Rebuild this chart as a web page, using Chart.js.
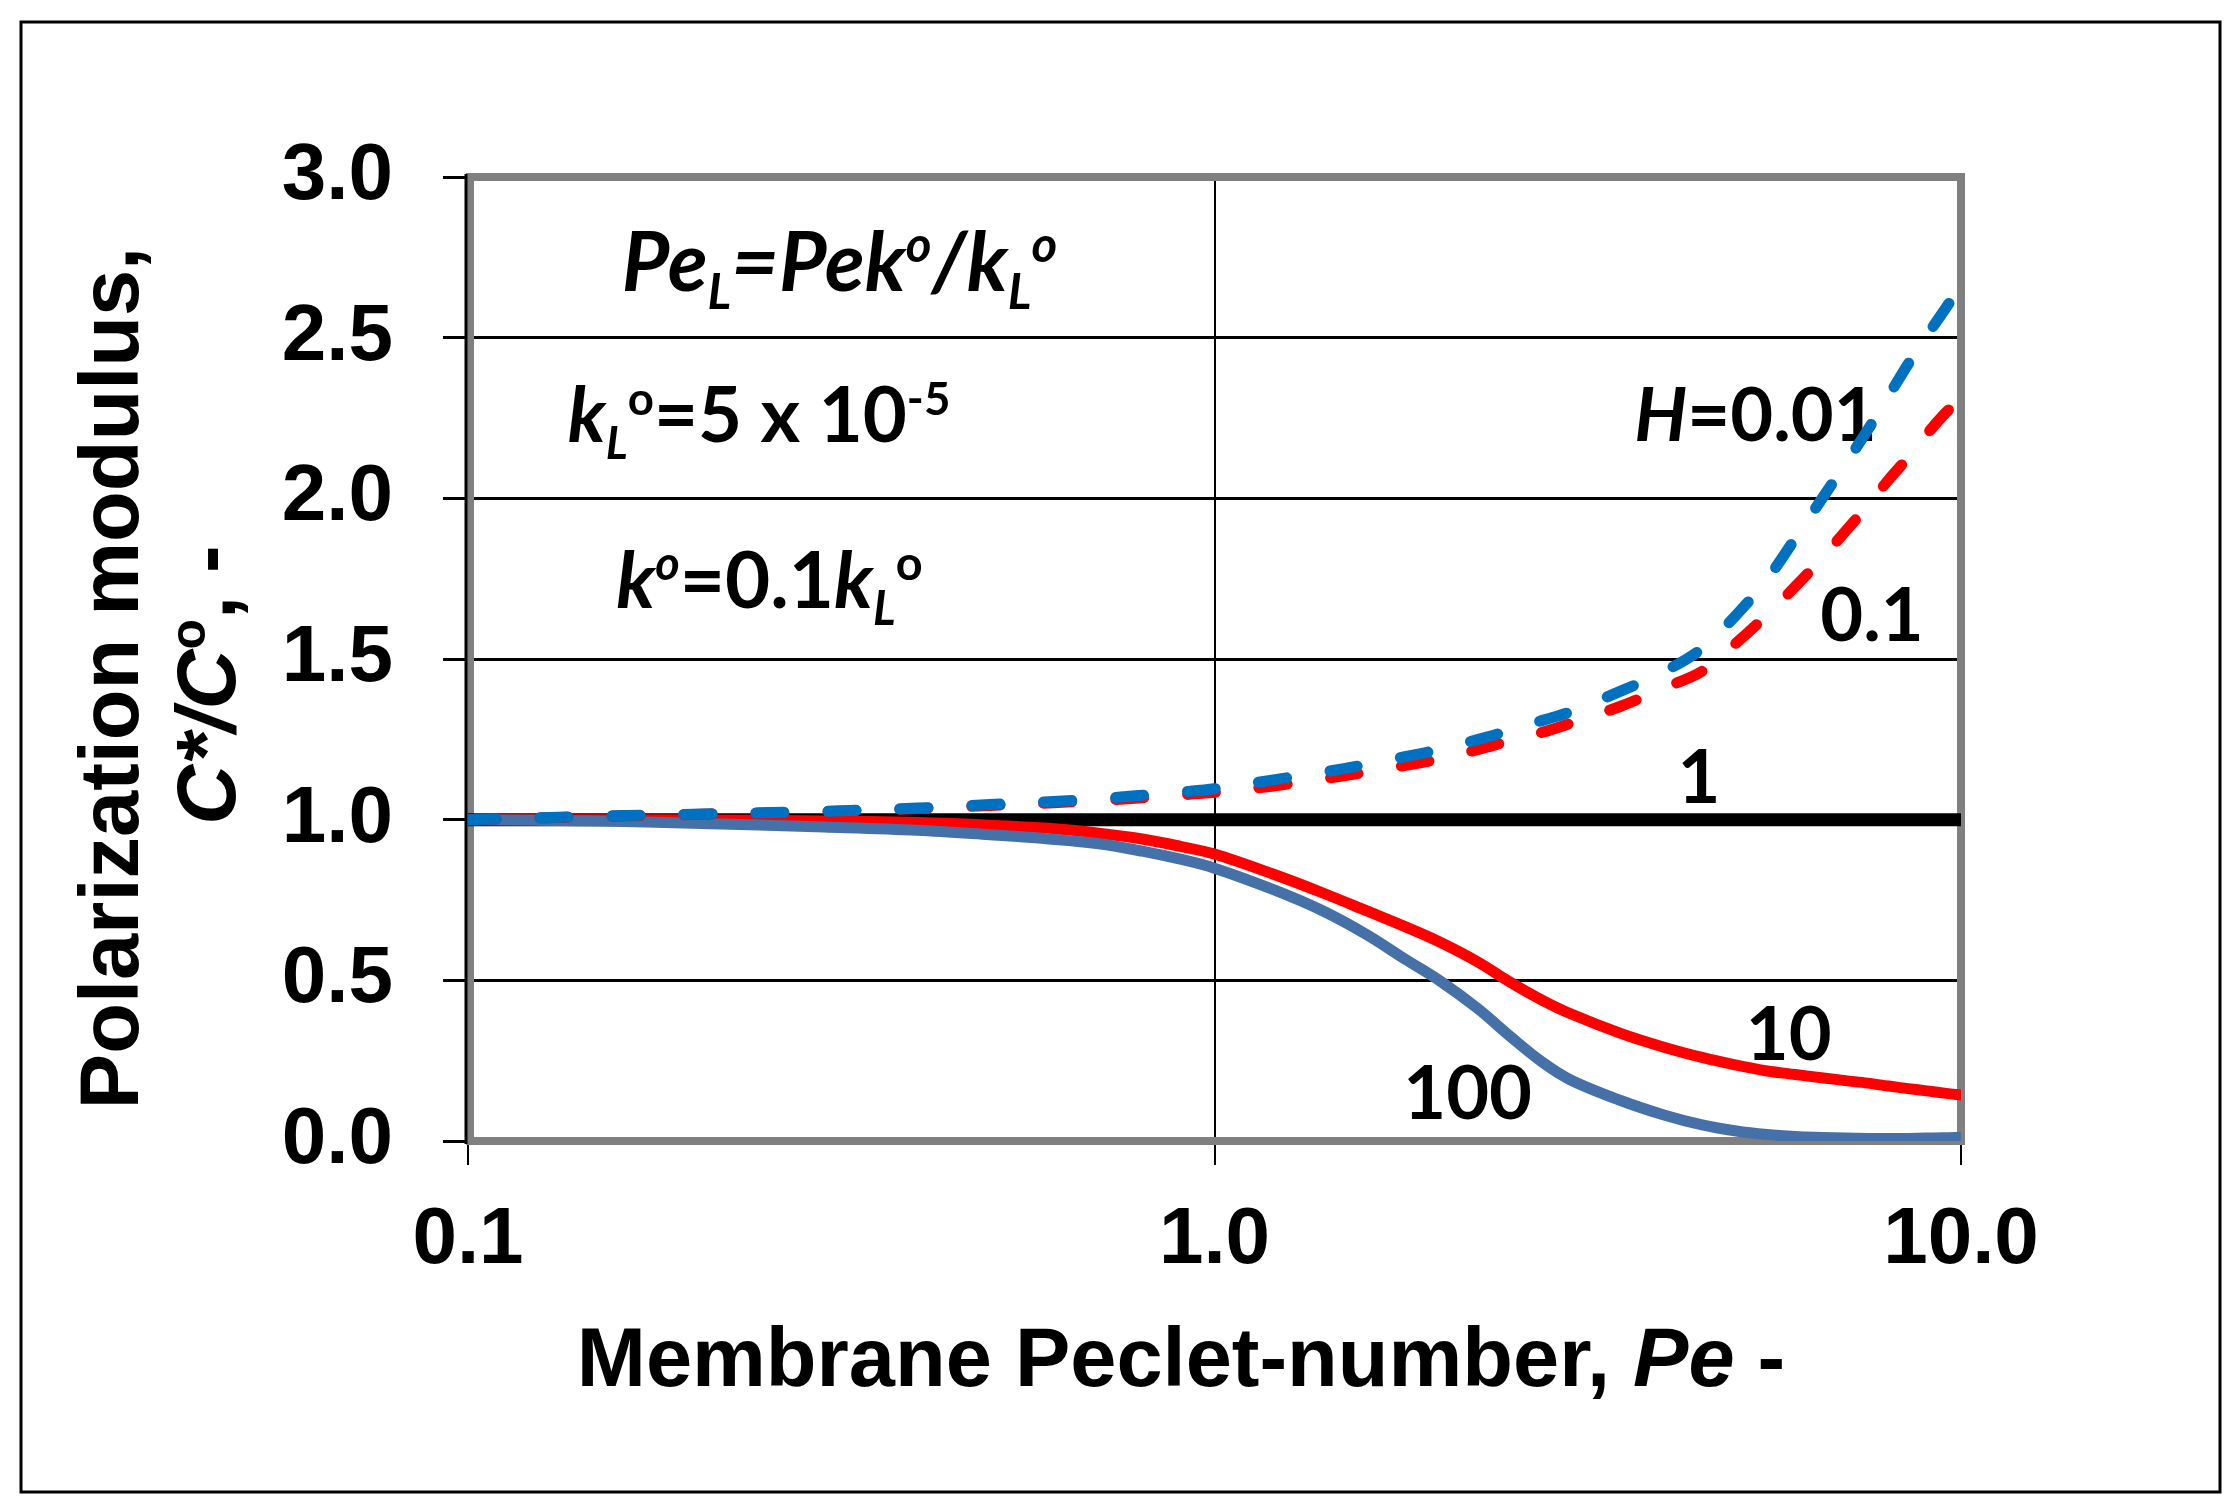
<!DOCTYPE html>
<html>
<head>
<meta charset="utf-8">
<script src="https://cdn.jsdelivr.net/npm/chart.js@4.4.1/dist/chart.umd.min.js"></script>
<style>
  html, body { margin: 0; padding: 0; background: #fff; }
  #wrap { width: 2239px; height: 1511px; position: relative; }
</style>
</head>
<body>
<div id="wrap"><canvas id="chart"></canvas></div>
<script>
// Membrane Peclet-number (x values shared by every curve)
const pe = [0.1, 0.15, 0.2, 0.3, 0.4, 0.5, 0.6, 0.7, 0.8, 0.9, 1.0, 1.2, 1.4, 1.6, 1.8, 2.0,
            2.25, 2.5, 2.75, 3.0, 3.5, 4.0, 4.5, 5.0, 5.5, 6.0, 6.5, 7.0, 7.5, 8.0, 8.5, 9.0, 9.5, 10];

// Polarization modulus C*/C° for each H
const h001 = [1.000, 1.011, 1.017, 1.026, 1.036, 1.047, 1.056, 1.065, 1.076, 1.086, 1.096, 1.124, 1.148, 1.172, 1.196, 1.218,
              1.249, 1.279, 1.309, 1.336, 1.400, 1.461, 1.533, 1.637, 1.749, 1.876, 1.996, 2.107, 2.213, 2.319, 2.419, 2.506, 2.586, 2.660];
const h01  = [1.000, 1.010, 1.016, 1.025, 1.034, 1.044, 1.052, 1.060, 1.068, 1.077, 1.085, 1.105, 1.127, 1.148, 1.169, 1.189,
              1.218, 1.247, 1.272, 1.300, 1.353, 1.410, 1.462, 1.550, 1.638, 1.726, 1.812, 1.897, 1.978, 2.058, 2.128, 2.200, 2.262, 2.312];
const h1   = [1, 1, 1, 1, 1, 1, 1, 1, 1, 1, 1, 1, 1, 1, 1, 1,
              1, 1, 1, 1, 1, 1, 1, 1, 1, 1, 1, 1, 1, 1, 1, 1, 1, 1];
const h10  = [1.000, 1.000, 0.999, 0.996, 0.991, 0.983, 0.973, 0.958, 0.940, 0.917, 0.893, 0.830, 0.771, 0.716, 0.667, 0.620,
              0.558, 0.492, 0.438, 0.396, 0.335, 0.292, 0.260, 0.236, 0.218, 0.207, 0.197, 0.188, 0.180, 0.171, 0.163, 0.156, 0.149, 0.143];
const h100 = [1.000, 0.996, 0.989, 0.977, 0.967, 0.953, 0.940, 0.925, 0.902, 0.877, 0.849, 0.782, 0.715, 0.642, 0.566, 0.500,
              0.413, 0.322, 0.245, 0.190, 0.126, 0.081, 0.050, 0.031, 0.020, 0.014, 0.011, 0.009, 0.008, 0.008, 0.008, 0.009, 0.010, 0.012];

const xTicks = [0.1, 1, 10];
const xTickLabels = ["0.1", "1.0", "10.0"];
const yTicks = [0, 0.5, 1.0, 1.5, 2.0, 2.5, 3.0];
const yTickLabels = ["0.0", "0.5", "1.0", "1.5", "2.0", "2.5", "3.0"];

const AXIS_FONT = '"Liberation Sans", Arial, sans-serif';
const NOTE_FONT = 'Lato, "Open Sans", sans-serif';

// text placed in the plot, anchored in data coordinates (left end of baseline)
const notes = [
    { x: 0.1607, y: 2.644, size: 82, runs: [{ t: "Pe", it: 1 }, { t: "L", it: 1, sub: 1 }, { t: "=Pek", it: 1 }, { t: "o", it: 1, sup: 1 },
                                  { t: "/k", it: 1 }, { t: "L", it: 1, sub: 1 }, { t: "o", it: 1, sup: 1 }] },
    { x: 0.136, y: 2.174, size: 76, runs: [{ t: "k", it: 1 }, { t: "L", it: 1, sub: 1 }, { t: "o", sup: 1 }, { t: "=5 x 10" }, { t: "-5", sup: 1 }] },
    { x: 0.158, y: 1.659, size: 78, runs: [{ t: "k", it: 1 }, { t: "o", it: 1, sup: 1 }, { t: "=0.1" }, { t: "k", it: 1 },
                                 { t: "L", it: 1, sub: 1 }, { t: "o", sup: 1 }] },
    { x: 3.65, y: 2.179, size: 74, runs: [{ t: "H", it: 1 }, { t: "=0.01" }] },
    { x: 6.48, y: 1.556, size: 74, runs: [{ t: "0.1" }] },
    { x: 4.17, y: 1.052, size: 74, runs: [{ t: "1" }] },
    { x: 5.15, y: 0.252, size: 74, runs: [{ t: "10" }] },
    { x: 1.79, y: 0.069, size: 74, runs: [{ t: "100" }] }
];

function toPoints(ys) {
    return pe.map((x, i) => ({ x: x, y: ys[i] }));
}

// draws a row of text runs (italic / superscript / subscript)
function drawRich(ctx, runs, x, y, size, family, align) {
    const parts = runs.map(r => {
        const s = (r.sup || r.sub) ? size * 0.6 : size;
        const font = (r.it ? "italic " : "") + "bold " + s + "px " + family;
        ctx.font = font;
        return {
            t: r.t, font: font,
            w: ctx.measureText(r.t).width,
            dy: r.sup ? -size * 0.36 : (r.sub ? size * 0.22 : 0)
        };
    });
    const total = parts.reduce((a, p) => a + p.w, 0);
    let cx = align === "center" ? x - total / 2 : x;
    ctx.textAlign = "left";
    ctx.textBaseline = "alphabetic";
    ctx.fillStyle = "#000";
    parts.forEach(p => {
        ctx.font = p.font;
        ctx.fillText(p.t, cx, y + p.dy);
        cx += p.w;
    });
}

const framePlugin = {
    id: "frame",
    beforeDatasetsDraw(chart) {
        const { ctx, chartArea: a } = chart;
        ctx.save();
        ctx.strokeStyle = "#808080";
        ctx.lineWidth = 8;
        ctx.strokeRect(a.left + 2, a.top, a.right - a.left - 2, a.bottom - a.top);
        // thin black axis line on the left
        ctx.strokeStyle = "#000";
        ctx.lineWidth = 3;
        ctx.beginPath();
        ctx.moveTo(a.left - 2, a.top - 3);
        ctx.lineTo(a.left - 2, a.bottom + 3);
        ctx.stroke();

        // labels inside the plot
        const xs = chart.scales.x, ys = chart.scales.y;
        notes.forEach(n => {
            drawRich(ctx, n.runs, xs.getPixelForValue(n.x), ys.getPixelForValue(n.y), n.size, NOTE_FONT, "left");
        });
        ctx.restore();
    }
};

const titlePlugin = {
    id: "titles",
    afterDraw(chart) {
        const ctx = chart.ctx;
        ctx.save();
        // outer border of the figure
        ctx.strokeStyle = "#000";
        ctx.lineWidth = 3;
        ctx.strokeRect(21, 22, 2199, 1470);

        // x axis title
        drawRich(ctx, [{ t: "Membrane Peclet-number, " }, { t: "Pe", it: 1 }, { t: " -" }], 1181, 1386, 83, AXIS_FONT, "center");

        // y axis title, two lines
        ctx.save();
        ctx.translate(138, 678);
        ctx.rotate(-Math.PI / 2);
        drawRich(ctx, [{ t: "Polarization modulus," }], 0, 0, 83, AXIS_FONT, "center");
        ctx.restore();
        ctx.save();
        ctx.translate(235, 685);
        ctx.rotate(-Math.PI / 2);
        drawRich(ctx, [{ t: "C*/C", it: 1 }, { t: "o", sup: 1 }, { t: ", -" }], 0, 0, 83, AXIS_FONT, "center");
        ctx.restore();
        ctx.restore();
    }
};

function lineSet(label, ys, color, width, dashed, order) {
    return {
        label: label,
        data: toPoints(ys),
        showLine: true,
        borderColor: color,
        backgroundColor: color,
        borderWidth: width,
        borderDash: dashed ? [28, 44] : [],
        borderCapStyle: "round",
        borderJoinStyle: "round",
        pointRadius: 0,
        tension: 0.35,
        order: order
    };
}

function drawChart() {
    const ctx = document.getElementById("chart").getContext("2d");
    const tickFont = { family: AXIS_FONT, size: 80, weight: "bold" };
    new Chart(ctx, {
        type: "scatter",
        data: {
            datasets: [
                lineSet("H=0.01", h001, "#0070C0", 11, true, 0),
                lineSet("H=0.1", h01, "#FF0000", 11, true, 1),
                lineSet("H=100", h100, "#4570A8", 11, false, 2),
                lineSet("H=10", h10, "#FF0000", 11, false, 3),
                lineSet("H=1", h1, "#000000", 13, false, 4)
            ]
        },
        options: {
            responsive: true,
            maintainAspectRatio: false,
            animation: false,
            devicePixelRatio: 1,
            layout: { padding: { top: 177, right: 278, left: 0, bottom: 0 } },
            plugins: { legend: { display: false }, tooltip: { enabled: false } },
            scales: {
                x: {
                    type: "logarithmic",
                    min: 0.1,
                    max: 10,
                    afterBuildTicks: s => { s.ticks = xTicks.map(v => ({ value: v })); },
                    afterFit: s => { s.height = 370; },
                    ticks: {
                        callback: (v, i) => xTickLabels[i],
                        font: tickFont, color: "#000", padding: 28,
                        autoSkip: false, maxRotation: 0
                    },
                    grid: { color: "#000", lineWidth: 2, tickLength: 24 },
                    border: { display: false }
                },
                y: {
                    min: 0,
                    max: 3,
                    afterBuildTicks: s => { s.ticks = yTicks.map(v => ({ value: v })); },
                    afterFit: s => { s.width = 468; },
                    ticks: {
                        callback: (v, i) => yTickLabels[i],
                        font: tickFont, color: "#000", padding: 50
                    },
                    grid: { color: "#000", lineWidth: 3, tickLength: 25 },
                    border: { display: false }
                }
            }
        },
        plugins: [framePlugin, titlePlugin]
    });
}

Promise.all([
    document.fonts.load('bold 70px Lato'),
    document.fonts.load('italic bold 70px Lato'),
    document.fonts.load('bold 80px "Liberation Sans"'),
    document.fonts.load('italic bold 80px "Liberation Sans"')
]).then(drawChart, drawChart);
</script>
</body>
</html>
